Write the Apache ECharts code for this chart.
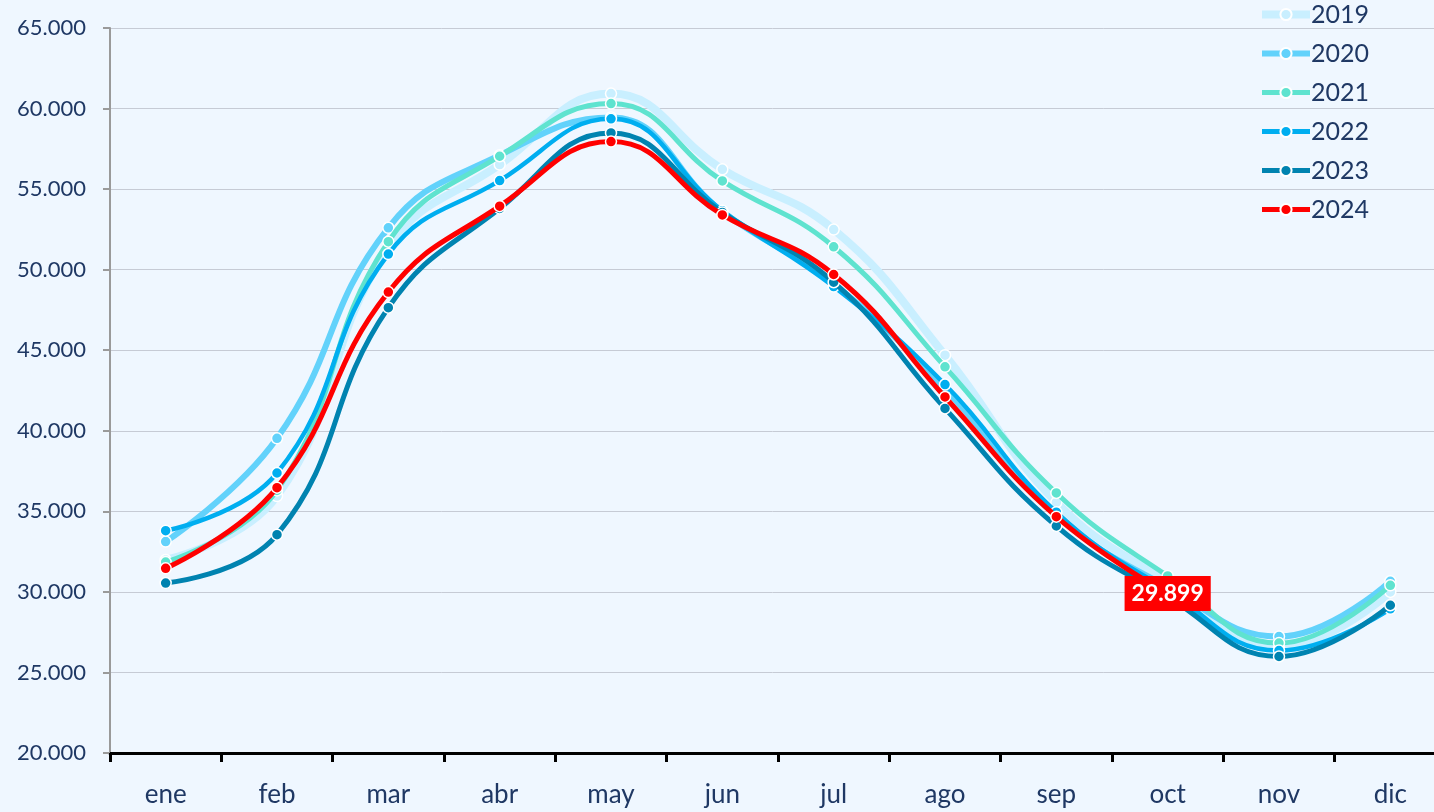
<!DOCTYPE html>
<html lang="es">
<head>
    <meta charset="UTF-8">
    <title>Serie mensual 2019-2024</title>
    <script src="https://cdn.jsdelivr.net/npm/echarts@6/dist/echarts.min.js"></script>
    <style>
        html, body {
            margin: 0;
            padding: 0;
            width: 100%;
            height: 100%;
            background: #eff7ff;
        }
        #chart {
            width: 1434px;
            height: 812px;
        }
    </style>
</head>
<body>
    <div id="chart"></div>
    <script>
        // datos
        var meses = ['ene', 'feb', 'mar', 'abr', 'may', 'jun', 'jul', 'ago', 'sep', 'oct', 'nov', 'dic'];
        var yTicks = [20000, 25000, 30000, 35000, 40000, 45000, 50000, 55000, 60000, 65000];

        var d2019 = [31980, 35950, 51350, 56520, 60930, 56230, 52490, 44690, 35560, 30600, 26570, 30000];
        var d2020 = [33120, 39530, 52600, 57100, 59450, 53600, 49100, 42600, 34800, 30300, 27230, 30660];
        var d2021 = [31850, 36300, 51740, 57040, 60310, 55510, 51420, 43970, 36140, 30990, 26820, 30410];
        var d2022 = [33800, 37380, 50970, 55530, 59360, 53650, 48950, 42870, 34950, 30100, 26360, 28950];
        var d2023 = [30550, 33550, 47640, 53800, 58490, 53550, 49220, 41390, 34090, 29700, 25990, 29170];
        var d2024 = [31460, 36470, 48610, 53940, 57950, 53400, 49700, 42100, 34670, 29899];

        var anios = ['2019', '2020', '2021', '2022', '2023', '2024'];
        var valores = [d2019, d2020, d2021, d2022, d2023, d2024];
        var colores = ['#c9efff', '#62d2fb', '#5fe3cf', '#00aef0', '#0083b0', '#ff0000'];
        var grosores = [8, 6, 5, 4.5, 5, 5];

        function fmt(v) {
            return (v / 1000).toFixed(3);
        }

        var series = [];
        var leyenda = [];
        for (var i = 0; i < anios.length; i++) {
            var datos = valores[i].slice();
            if (anios[i] === '2024') {
                var ult = datos.length - 1;
                datos[ult] = {
                    value: datos[ult],
                    label: {
                        show: true,
                        position: 'inside',
                        formatter: function (p) { return fmt(p.value); },
                        backgroundColor: '#ff0000',
                        color: '#ffffff',
                        fontFamily: 'Lato',
                        fontWeight: 'bold',
                        fontSize: 23,
                        padding: [7, 7, 5, 7]
                    }
                };
            }
            series.push({
                name: anios[i],
                type: 'line',
                smooth: 0.45,
                data: datos,
                symbol: 'circle',
                symbolSize: 11,
                z: 2 + i,
                lineStyle: { color: colores[i], width: grosores[i] },
                itemStyle: { color: colores[i], borderColor: '#ffffff', borderWidth: 1.5 }
            });
            leyenda.push({
                name: anios[i],
                lineStyle: { width: Math.max(grosores[i], 5) }
            });
        }

        var chart = echarts.init(document.getElementById('chart'));
        chart.setOption({
            backgroundColor: '#eff7ff',
            animation: false,
            legend: {
                orient: 'vertical',
                left: 1258,
                top: 2,
                padding: 0,
                itemWidth: 48,
                itemHeight: 14,
                itemGap: 14,
                data: leyenda,
                textStyle: { color: '#1f3864', fontSize: 25, fontFamily: 'Lato', padding: [0, 0, 0, -4] }
            },
            grid: {
                left: 110,
                right: -12,
                top: 28,
                bottom: 59,
                outerBoundsMode: 'none'
            },
            xAxis: {
                type: 'category',
                data: meses,
                boundaryGap: true,
                axisLine: { lineStyle: { color: '#000000', width: 3 } },
                axisTick: { show: true, length: 9, lineStyle: { color: '#000000', width: 3 } },
                axisLabel: { color: '#1f3864', fontSize: 26, fontFamily: 'Lato', margin: 29 }
            },
            yAxis: {
                type: 'value',
                min: yTicks[0],
                max: yTicks[yTicks.length - 1],
                interval: 5000,
                axisLine: { show: true, lineStyle: { color: '#9a9a9a', width: 2 } },
                axisTick: { show: true, length: 7, lineStyle: { color: '#9a9a9a', width: 2 } },
                axisLabel: {
                    color: '#1f3864',
                    fontSize: 22,
                    fontFamily: 'Lato',
                    margin: 24,
                    formatter: fmt
                },
                splitLine: { lineStyle: { color: '#c6cbd5', width: 1 } }
            },
            series: series
        });
    </script>
</body>
</html>
